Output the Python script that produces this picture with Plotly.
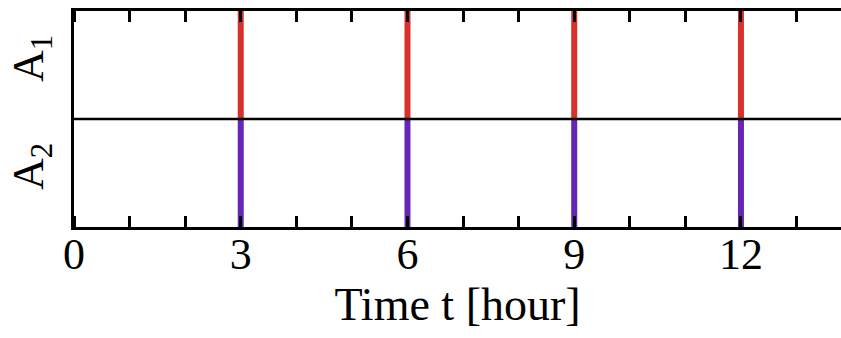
import plotly.graph_objects as go

event_times = [3, 6, 9, 12]
panel_labels = ["A<sub>2</sub>", "A<sub>1</sub>"]
panel_centers = [0.5, 1.5]
x_major_ticks = [0, 3, 6, 9, 12]
x_max = 13.8

red = "#d8302a"
purple = "#6526b5"

def segs(times, y0, y1):
    xs, ys = [], []
    for t in times:
        xs += [t, t, None]
        ys += [y0, y1, None]
    return xs, ys

fig = go.Figure()
xa, ya = segs(event_times, 1, 2)
fig.add_trace(go.Scatter(x=xa, y=ya, mode="lines", line=dict(color=red, width=6), showlegend=False))
xb, yb = segs(event_times, 0, 1)
fig.add_trace(go.Scatter(x=xb, y=yb, mode="lines", line=dict(color=purple, width=6), showlegend=False))

fig.add_shape(type="line", xref="paper", x0=0, x1=1, yref="y", y0=1, y1=1,
              line=dict(color="black", width=2.5), layer="above")

fam = "Liberation Serif, Times New Roman, serif"
tick_font = dict(family=fam, size=44, color="black")
title_font = dict(family=fam, size=46, color="black")
ylab_font = dict(family=fam, size=44, color="black")

fig.update_layout(
    width=841, height=338,
    margin=dict(l=74, r=0, t=11, b=111),
    paper_bgcolor="white", plot_bgcolor="white",
    font=tick_font,
    xaxis=dict(range=[0, x_max], showline=True, linecolor="black", linewidth=2.5,
               mirror="ticks", ticks="", tickvals=x_major_ticks, showgrid=False, zeroline=False,
               minor=dict(ticks="inside", dtick=1, ticklen=11, tickwidth=2.5, tickcolor="black", showgrid=False),
               tickfont=tick_font, ticklabelstandoff=-14),
    yaxis=dict(range=[0, 2], showline=True, linecolor="black", linewidth=2.5,
               ticks="", tickvals=panel_centers, ticktext=panel_labels, tickangle=-90,
               showgrid=False, zeroline=False, tickfont=ylab_font, ticklabelstandoff=11),
)
fig.update_xaxes(title_text="Time t [hour]", title_font=title_font, title_standoff=5)

fig.write_html("out.html")
